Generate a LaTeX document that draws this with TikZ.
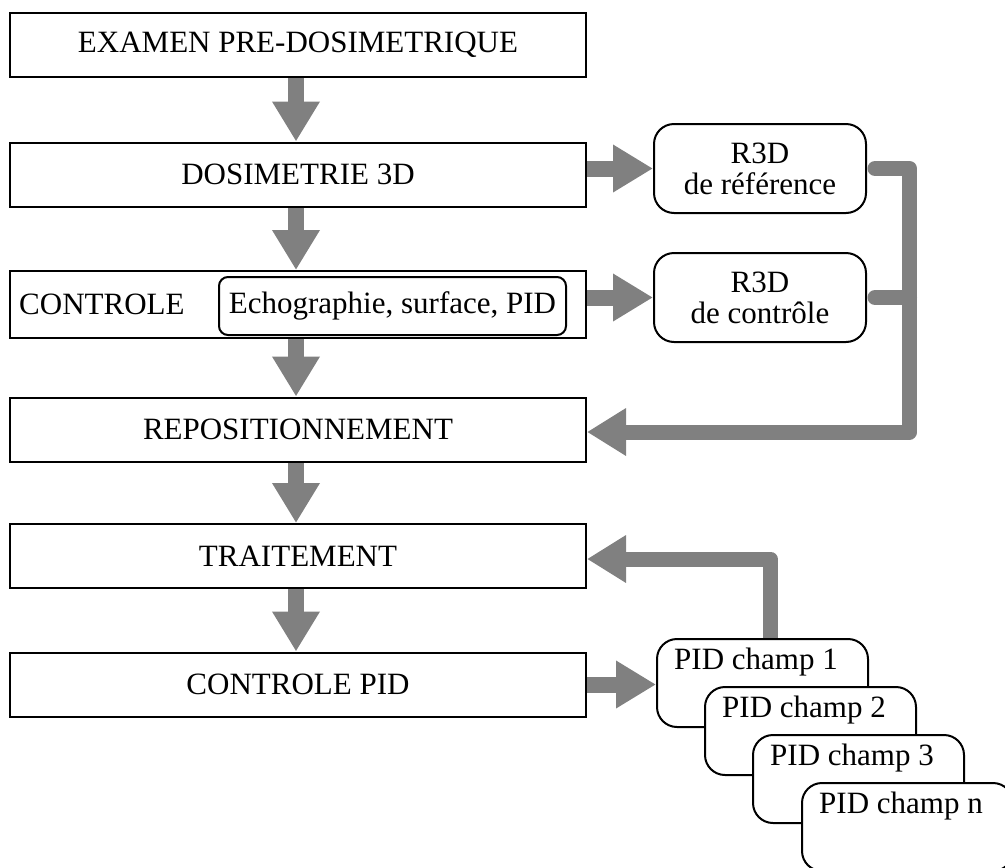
\documentclass[tikz,border=0pt]{standalone}
\usepackage{fontspec}
\setmainfont{Liberation Serif}
\usetikzlibrary{arrows.meta,backgrounds}
\definecolor{flowgray}{RGB}{128,128,128}
\begin{document}
\begin{tikzpicture}[x=1pt,y=-1pt,
  font=\fontsize{31}{31}\selectfont,
  every node/.style={inner sep=0pt},
  mainbox/.style={draw, line width=2pt, fill=white, minimum width=576pt, minimum height=64pt},
  roundbox/.style={draw, line width=2pt, fill=white, rounded corners=20pt, minimum width=212pt, minimum height=89pt, align=center},
  pidbox/.style={draw, line width=2pt, fill=white, rounded corners=20pt, minimum width=211pt, minimum height=88pt},
  innerbox/.style={draw, line width=2pt, rounded corners=9pt, minimum width=347pt, minimum height=58pt},
  flow/.style={draw=flowgray, color=flowgray, line width=16pt, -{Triangle[width=45pt,length=40pt]}},
  feed/.style={draw=flowgray, color=flowgray, line width=15pt, line join=round},
  feedarrow/.style={feed, -{Triangle[width=45pt,length=39pt]}}
]
\useasboundingbox (0,0) rectangle (1005,868);

% main column
\node[mainbox] (b1) at (298,45) {EXAMEN PRE-DOSIMETRIQUE};
\node[mainbox] (b2) at (298,174.5) {DOSIMETRIE 3D};
\node[mainbox, minimum height=67pt] (b3) at (298,304.5) {};
\node[anchor=west] (ctl) at (19,304) {CONTROLE};
\node[innerbox] (echo) at (392.5,306) {Echographie, surface, PID};
\node[mainbox] (b4) at (298,429.5) {REPOSITIONNEMENT};
\node[mainbox] (b5) at (298,556) {TRAITEMENT};
\node[mainbox] (b6) at (298,684.5) {CONTROLE PID};

% R3D boxes
\node[roundbox] (ref) at (760,168.5) {R3D\\de référence};
\node[roundbox] (ctrl) at (760,297.5) {R3D\\de contrôle};

% PID stack
\node[pidbox] (p1) at (762.5,683) {};
\node[anchor=base west] (p1t) at ([xshift=18pt,yshift=-31pt]p1.north west) {PID champ 1};
\node[pidbox] (p2) at (810.5,731) {};
\node[anchor=base west] (p2t) at ([xshift=18pt,yshift=-31pt]p2.north west) {PID champ 2};
\node[pidbox] (p3) at (858.5,779) {};
\node[anchor=base west] (p3t) at ([xshift=18pt,yshift=-31pt]p3.north west) {PID champ 3};
\node[pidbox] (pn) at (907.5,827) {};
\node[anchor=base west] (pnt) at ([xshift=18pt,yshift=-31pt]pn.north west) {PID champ n};

\coordinate (bus) at (909.5,432);
\coordinate (tcorner) at (770.5,559);

\begin{pgfonlayer}{background}
% vertical flow
\draw[flow] ([xshift=-2pt]b1.south) -- ([xshift=-2pt]b2.north);
\draw[flow] ([xshift=-2pt]b2.south) -- ([xshift=-2pt]b3.north);
\draw[flow] ([xshift=-2pt]b3.south) -- ([xshift=-2pt]b4.north);
\draw[flow] ([xshift=-2pt]b4.south) -- ([xshift=-2pt]b5.north);
\draw[flow] ([xshift=-2pt]b5.south) -- ([xshift=-2pt]b6.north);
% horizontal flow
\draw[flow] (b2.east |- ref.west) -- (ref.west);
\draw[flow] (b3.east |- ctrl.west) -- (ctrl.west);
\draw[flow] (b6.east) -- (b6.east -| p1.west);
% feedback to repositionnement
\draw[feedarrow, line cap=round] ([xshift=8pt]ref.east) -| (bus) -- (bus -| b4.east);
\draw[feed, line cap=round] ([xshift=8pt]ctrl.east) -- (ctrl.east -| bus);
% feedback to traitement
\draw[feedarrow] (p1.north -| tcorner) -- (tcorner) -- (tcorner -| b5.east);
\end{pgfonlayer}
\end{tikzpicture}
\end{document}
